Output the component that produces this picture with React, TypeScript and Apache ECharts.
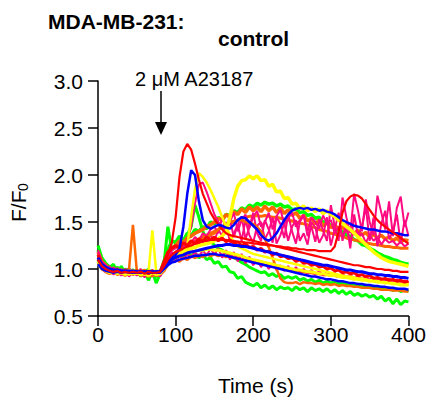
import React, { useEffect, useRef } from "react";
import * as echarts from "echarts";

// time samples (s)
const TIME: number[] = Array.from({ length: 81 }, (_, i) => i * 5);

const X_TICKS = [0, 100, 200, 300, 400];
const Y_TICKS = [0.5, 1.0, 1.5, 2.0, 2.5, 3.0];

const greenLow = [
  1.25, 1.12, 1.06, 1.02, 1.05, 0.96, 1.03, 0.94, 1.0, 0.95,
  0.99, 0.92, 0.98, 0.88, 0.97, 0.85, 0.95, 1.02, 1.08, 1.12,
  1.1, 1.16, 1.12, 1.18, 1.14, 1.17, 1.12, 1.15, 1.1, 1.12,
  1.06, 1.08, 1.02, 1.03, 0.97, 0.96, 0.9, 0.92, 0.86, 0.84,
  0.82, 0.85, 0.8, 0.83, 0.79, 0.82, 0.78, 0.81, 0.79, 0.8,
  0.77, 0.81, 0.78, 0.8, 0.76, 0.8, 0.77, 0.79, 0.76, 0.79,
  0.75, 0.78, 0.74, 0.77, 0.73, 0.76, 0.72, 0.74, 0.71, 0.73,
  0.7, 0.72, 0.68, 0.71, 0.66, 0.69, 0.63, 0.68, 0.62, 0.66,
  0.65,
];
const greenMid = [
  1.15, 1.06, 1.03, 1.0, 0.98, 1.02, 0.96, 1.0, 0.97, 0.99,
  0.95, 0.99, 0.96, 1.0, 0.93, 0.98, 0.97, 1.05, 1.45, 1.2,
  1.25, 1.3, 1.28, 1.36, 1.45, 1.68, 1.55, 1.4, 1.32, 1.3,
  1.25, 1.22, 1.2, 1.17, 1.15, 1.12, 1.1, 1.07, 1.05, 1.02,
  1.0, 0.98, 0.96, 0.97, 0.93, 0.95, 0.92, 0.94, 0.9, 0.92,
  0.9, 0.92, 0.88, 0.9, 0.87, 0.89, 0.86, 0.88, 0.85, 0.87,
  0.85, 0.87, 0.84, 0.86, 0.83, 0.85, 0.82, 0.84, 0.81, 0.83,
  0.8, 0.82, 0.79, 0.81, 0.78, 0.8, 0.77, 0.79, 0.76, 0.78,
  0.76,
];
const greenHigh = [
  1.2, 1.1, 1.05, 1.02, 1.0, 0.98, 1.01, 0.97, 0.99, 0.96,
  0.98, 0.95, 0.97, 0.94, 0.98, 0.92, 0.96, 1.08, 1.2, 1.3,
  1.28, 1.35, 1.3, 1.38, 1.35, 1.42, 1.4, 1.45, 1.43, 1.5,
  1.48, 1.55, 1.52, 1.58, 1.57, 1.62, 1.6, 1.65, 1.63, 1.68,
  1.66, 1.7, 1.68, 1.71, 1.69, 1.7, 1.67, 1.69, 1.66, 1.67,
  1.63, 1.64, 1.6, 1.61, 1.57, 1.58, 1.54, 1.55, 1.5, 1.5,
  1.46, 1.45, 1.41, 1.4, 1.36, 1.35, 1.31, 1.3, 1.26, 1.25,
  1.22, 1.2, 1.17, 1.15, 1.13, 1.12, 1.1, 1.09, 1.07, 1.06,
  1.05,
];
const orangeTop = [
  1.18, 1.08, 1.04, 1.0, 0.98, 1.0, 0.96, 0.98, 0.95, 0.97,
  0.96, 0.94, 0.97, 0.95, 0.93, 0.96, 0.95, 1.05, 1.15, 1.22,
  1.25, 1.3, 1.28, 1.33, 1.35, 1.38, 1.4, 1.42, 1.45, 1.47,
  1.5, 1.54, 1.52, 1.58, 1.55, 1.61, 1.58, 1.64, 1.6, 1.66,
  1.62, 1.66, 1.61, 1.67, 1.62, 1.66, 1.6, 1.65, 1.59, 1.63,
  1.57, 1.6, 1.54, 1.57, 1.51, 1.54, 1.48, 1.52, 1.46, 1.49,
  1.44, 1.47, 1.42, 1.45, 1.4, 1.43, 1.38, 1.41, 1.36, 1.39,
  1.34, 1.37, 1.33, 1.36, 1.32, 1.34, 1.3, 1.33, 1.29, 1.31,
  1.3,
];
const orangeDrop = [
  1.12, 1.04, 1.0, 0.98, 0.97, 0.99, 0.97, 0.98, 1.0, 1.47,
  0.98, 0.97, 0.99, 0.96, 0.98, 0.97, 0.96, 1.02, 1.08, 1.12,
  1.15, 1.18, 1.2, 1.22, 1.25, 1.27, 1.3, 1.32, 1.34, 1.36,
  1.38, 1.42, 1.45, 1.48, 1.5, 1.51, 1.52, 1.52, 1.5, 1.49,
  1.48, 1.45, 1.4, 1.32, 1.23, 1.12, 1.0, 0.9, 0.86, 0.85,
  0.85, 0.86, 0.84, 0.86, 0.85, 0.85, 0.84, 0.85, 0.83, 0.84,
  0.83, 0.84, 0.82, 0.83, 0.82, 0.82, 0.81, 0.81, 0.8, 0.8,
  0.8, 0.79, 0.79, 0.78, 0.78, 0.78, 0.77, 0.77, 0.77, 0.76,
  0.76,
];
const orangeMid = [
  1.1, 1.03, 1.0, 0.98, 0.97, 0.99, 0.96, 0.98, 0.97, 0.96,
  0.97, 0.95, 0.98, 0.96, 0.97, 0.95, 0.96, 1.03, 1.1, 1.15,
  1.18, 1.2, 1.22, 1.25, 1.27, 1.3, 1.32, 1.35, 1.36, 1.38,
  1.4, 1.42, 1.44, 1.47, 1.48, 1.5, 1.52, 1.53, 1.55, 1.56,
  1.56, 1.57, 1.56, 1.57, 1.56, 1.55, 1.55, 1.54, 1.53, 1.52,
  1.51, 1.5, 1.49, 1.48, 1.47, 1.45, 1.44, 1.42, 1.41, 1.4,
  1.38, 1.37, 1.36, 1.35, 1.33, 1.32, 1.31, 1.3, 1.29, 1.28,
  1.27, 1.26, 1.26, 1.25, 1.24, 1.24, 1.23, 1.23, 1.22, 1.22,
  1.22,
];
const orangeLow = [
  1.08, 1.0, 0.97, 0.95, 0.97, 0.94, 0.96, 0.93, 0.97, 0.94,
  0.96, 0.93, 0.95, 0.92, 0.96, 0.93, 0.94, 0.98, 1.05, 1.08,
  1.1, 1.08, 1.12, 1.1, 1.14, 1.12, 1.15, 1.13, 1.16, 1.14,
  1.16, 1.14, 1.15, 1.13, 1.14, 1.12, 1.12, 1.1, 1.11, 1.09,
  1.08, 1.07, 1.06, 1.05, 1.04, 1.03, 1.02, 1.01, 1.0, 0.99,
  0.98, 0.98, 0.97, 0.97, 0.96, 0.96, 0.95, 0.95, 0.94, 0.94,
  0.93, 0.93, 0.92, 0.92, 0.91, 0.91, 0.9, 0.9, 0.89, 0.89,
  0.88, 0.88, 0.87, 0.87, 0.86, 0.86, 0.85, 0.85, 0.84, 0.84,
  0.84,
];
const yellowPeak = [
  1.05, 1.0, 0.98, 0.97, 0.96, 0.98, 0.95, 0.97, 0.94, 0.96,
  0.95, 0.97, 0.94, 0.96, 1.41, 0.97, 0.95, 1.0, 1.05, 1.1,
  1.12, 1.15, 1.18, 1.25, 1.55, 1.85, 2.02, 1.98, 1.92, 1.84,
  1.75, 1.66, 1.55, 1.45, 1.36, 1.28, 1.24, 1.22, 1.2, 1.18,
  1.16, 1.15, 1.14, 1.13, 1.12, 1.11, 1.1, 1.09, 1.08, 1.07,
  1.06, 1.05, 1.04, 1.03, 1.02, 1.01, 1.0, 0.99, 0.98, 0.97,
  0.96, 0.95, 0.94, 0.93, 0.92, 0.92, 0.91, 0.9, 0.9, 0.89,
  0.88, 0.88, 0.87, 0.87, 0.86, 0.86, 0.85, 0.85, 0.84, 0.84,
  0.84,
];
const yellowHump = [
  1.1, 1.02, 0.99, 0.97, 0.98, 0.96, 0.97, 0.95, 0.98, 0.96,
  0.97, 0.95, 0.96, 0.94, 0.97, 0.95, 0.96, 1.02, 1.08, 1.12,
  1.14, 1.16, 1.18, 1.2, 1.22, 1.23, 1.25, 1.26, 1.27, 1.28,
  1.3, 1.32, 1.35, 1.4, 1.55, 1.75, 1.88, 1.94, 1.95, 1.99,
  1.96, 1.99, 1.94, 1.95, 1.88, 1.9, 1.82, 1.83, 1.75, 1.76,
  1.69, 1.7, 1.64, 1.67, 1.62, 1.65, 1.61, 1.64, 1.59, 1.62,
  1.58, 1.56, 1.52, 1.49, 1.45, 1.42, 1.38, 1.34, 1.3, 1.26,
  1.22, 1.18, 1.15, 1.12, 1.1, 1.08, 1.07, 1.06, 1.05, 1.04,
  1.03,
];
const yellowLow = [
  1.08, 1.01, 0.98, 0.96, 0.97, 0.95, 0.97, 0.94, 0.96, 0.95,
  0.96, 0.94, 0.95, 0.93, 0.96, 0.94, 0.95, 1.0, 1.06, 1.1,
  1.12, 1.14, 1.16, 1.17, 1.18, 1.19, 1.2, 1.2, 1.21, 1.21,
  1.2, 1.2, 1.19, 1.18, 1.17, 1.16, 1.15, 1.14, 1.12, 1.11,
  1.1, 1.09, 1.08, 1.07, 1.06, 1.05, 1.04, 1.03, 1.02, 1.01,
  1.0, 0.99, 0.99, 0.98, 0.97, 0.97, 0.96, 0.95, 0.95, 0.94,
  0.93, 0.93, 0.92, 0.91, 0.91, 0.9, 0.89, 0.89, 0.88, 0.88,
  0.87, 0.87, 0.86, 0.86, 0.85, 0.85, 0.84, 0.84, 0.83, 0.83,
  0.83,
];
const pinkPeak = [
  1.15, 1.06, 1.0, 1.03, 0.96, 1.01, 0.95, 1.0, 0.94, 0.99,
  0.95, 1.0, 0.93, 0.99, 0.94, 0.98, 0.93, 1.02, 1.1, 1.15,
  1.18, 1.22, 1.2, 1.3, 1.45, 1.7, 1.9, 1.92, 1.82, 1.7,
  1.58, 1.5, 1.45, 1.38, 1.52, 1.34, 1.47, 1.56, 1.32, 1.44,
  1.6, 1.38, 1.3, 1.52, 1.42, 1.28, 1.55, 1.48, 1.33, 1.58,
  1.4, 1.27, 1.5, 1.57, 1.35, 1.45, 1.29, 1.53, 1.41, 1.3,
  1.68, 1.45, 1.3, 1.76, 1.55, 1.38, 1.8, 1.62, 1.4, 1.74,
  1.5, 1.36, 1.78, 1.6, 1.42, 1.72, 1.35, 1.65, 1.77, 1.45,
  1.6,
];
const pinkMid = [
  1.2, 1.08, 1.04, 0.98, 1.02, 0.96, 1.0, 0.97, 1.01, 0.95,
  0.99, 0.94, 0.98, 0.95, 0.99, 0.93, 0.97, 1.05, 1.12, 1.18,
  1.15, 1.22, 1.18, 1.26, 1.22, 1.3, 1.25, 1.33, 1.28, 1.36,
  1.3, 1.42, 1.35, 1.5, 1.28, 1.38, 1.47, 1.3, 1.52, 1.36,
  1.28, 1.46, 1.5, 1.32, 1.4, 1.55, 1.27, 1.36, 1.49, 1.3,
  1.45, 1.52, 1.3, 1.38, 1.26, 1.5, 1.44, 1.28, 1.36, 1.55,
  1.25, 1.42, 1.6, 1.3, 1.5, 1.22, 1.58, 1.35, 1.45, 1.66,
  1.3, 1.55, 1.24, 1.48, 1.62, 1.32, 1.4, 1.58, 1.27, 1.52,
  1.35,
];
const pinkUpper = [
  1.18, 1.05, 1.02, 0.97, 1.0, 0.95, 0.99, 0.96, 1.0, 0.94,
  0.98, 0.95, 0.99, 0.94, 0.97, 0.95, 0.98, 1.06, 1.14, 1.2,
  1.22, 1.26, 1.24, 1.3, 1.28, 1.34, 1.3, 1.38, 1.35, 1.42,
  1.45, 1.38, 1.55, 1.42, 1.5, 1.6, 1.4, 1.52, 1.58, 1.44,
  1.55, 1.62, 1.45, 1.5, 1.6, 1.42, 1.56, 1.63, 1.48, 1.54,
  1.6, 1.45, 1.52, 1.58, 1.4, 1.55, 1.5, 1.43, 1.57, 1.48,
  1.52, 1.38, 1.45, 1.35, 1.42, 1.3, 1.4, 1.33, 1.38, 1.28,
  1.36, 1.3, 1.34, 1.26, 1.32, 1.28, 1.3, 1.25, 1.29, 1.24,
  1.27,
];
const pinkLow = [
  1.1, 1.0, 0.97, 1.0, 0.94, 0.99, 0.93, 0.98, 0.92, 0.97,
  0.93, 0.98, 0.91, 0.97, 0.92, 0.96, 0.92, 1.0, 1.06, 1.1,
  1.08, 1.14, 1.1, 1.16, 1.12, 1.18, 1.13, 1.2, 1.14, 1.22,
  1.15, 1.22, 1.12, 1.2, 1.1, 1.18, 1.08, 1.16, 1.06, 1.13,
  1.04, 1.1, 1.02, 1.08, 1.0, 1.06, 0.99, 1.04, 0.98, 1.03,
  0.97, 1.02, 0.96, 1.0, 0.95, 0.99, 0.94, 0.98, 0.93, 0.97,
  0.93, 0.96, 0.92, 0.95, 0.91, 0.94, 0.9, 0.93, 0.89, 0.92,
  0.89, 0.91, 0.88, 0.9, 0.87, 0.9, 0.86, 0.89, 0.86, 0.88,
  0.86,
];
const redPeak = [
  1.12, 1.04, 1.0, 0.99, 0.98, 0.99, 0.97, 0.98, 0.97, 0.98,
  0.97, 0.98, 0.96, 0.98, 0.97, 0.97, 0.98, 1.05, 1.15, 1.28,
  1.55, 1.98, 2.25, 2.33, 2.27, 2.12, 1.95, 1.8, 1.7, 1.6,
  1.53, 1.47, 1.42, 1.38, 1.36, 1.35, 1.34, 1.33, 1.32, 1.31,
  1.3, 1.29, 1.28, 1.27, 1.26, 1.25, 1.24, 1.23, 1.22, 1.21,
  1.2, 1.19, 1.18, 1.17, 1.16, 1.15, 1.14, 1.13, 1.12, 1.11,
  1.1, 1.09, 1.08, 1.07, 1.06, 1.05, 1.04, 1.04, 1.03, 1.02,
  1.02, 1.01, 1.0, 1.0, 0.99, 0.99, 0.98, 0.98, 0.97, 0.97,
  0.97,
];
const redLate = [
  1.1, 1.03, 1.0, 0.98, 0.97, 0.98, 0.96, 0.97, 0.96, 0.97,
  0.96, 0.97, 0.95, 0.97, 0.96, 0.96, 0.97, 1.03, 1.1, 1.15,
  1.18, 1.2, 1.22, 1.24, 1.25, 1.27, 1.28, 1.3, 1.3, 1.31,
  1.31, 1.32, 1.31, 1.31, 1.3, 1.3, 1.29, 1.29, 1.28, 1.28,
  1.27, 1.27, 1.26, 1.26, 1.25, 1.25, 1.24, 1.24, 1.23, 1.23,
  1.22, 1.22, 1.21, 1.21, 1.2, 1.2, 1.2, 1.19, 1.19, 1.19,
  1.19, 1.24, 1.4, 1.6, 1.72, 1.77, 1.79, 1.78, 1.75, 1.69,
  1.63, 1.57, 1.52, 1.48, 1.45, 1.42, 1.39, 1.36, 1.33, 1.3,
  1.27,
];
const redBand = [
  1.15, 1.05, 1.01, 0.99, 0.97, 0.99, 0.96, 0.98, 0.97, 0.96,
  0.98, 0.96, 0.97, 0.95, 0.98, 0.96, 0.97, 1.08, 1.18, 1.22,
  1.25, 1.22, 1.28, 1.25, 1.3, 1.27, 1.32, 1.29, 1.34, 1.31,
  1.34, 1.3, 1.33, 1.29, 1.31, 1.27, 1.29, 1.25, 1.27, 1.23,
  1.24, 1.2, 1.22, 1.18, 1.19, 1.15, 1.17, 1.13, 1.14, 1.11,
  1.12, 1.08, 1.1, 1.06, 1.07, 1.04, 1.05, 1.02, 1.03, 1.0,
  1.01, 0.98, 0.99, 0.96, 0.97, 0.95, 0.96, 0.93, 0.94, 0.92,
  0.93, 0.9, 0.91, 0.89, 0.9, 0.88, 0.89, 0.87, 0.88, 0.86,
  0.87,
];
const bluePeak = [
  1.1, 1.03, 1.0, 0.98, 0.98, 0.97, 0.98, 0.97, 0.97, 0.98,
  0.97, 0.96, 0.97, 0.97, 0.96, 0.97, 0.97, 1.02, 1.08, 1.12,
  1.15, 1.22, 1.45, 1.8, 2.05, 2.0, 1.72, 1.52, 1.45, 1.43,
  1.45, 1.47, 1.46, 1.44, 1.43, 1.47, 1.52, 1.55, 1.54, 1.5,
  1.46, 1.42, 1.36, 1.32, 1.3, 1.33, 1.38, 1.45, 1.52, 1.58,
  1.62, 1.64, 1.65, 1.64, 1.65, 1.63, 1.64, 1.62, 1.63, 1.61,
  1.6, 1.58, 1.55, 1.52, 1.5, 1.48, 1.46, 1.45, 1.44, 1.43,
  1.42, 1.42, 1.41, 1.4, 1.4, 1.39, 1.38, 1.38, 1.37, 1.36,
  1.36,
];
const blueMean = [
  1.12, 1.05, 1.02, 1.0, 0.99, 0.99, 0.98, 0.98, 0.98, 0.97,
  0.97, 0.97, 0.97, 0.97, 0.97, 0.97, 0.97, 1.02, 1.07, 1.1,
  1.12, 1.14, 1.15, 1.17, 1.18, 1.19, 1.2, 1.21, 1.22, 1.23,
  1.24, 1.25, 1.25, 1.26, 1.26, 1.25, 1.25, 1.24, 1.24, 1.23,
  1.22, 1.21, 1.2, 1.19, 1.18, 1.17, 1.16, 1.15, 1.14, 1.13,
  1.12, 1.11, 1.1, 1.09, 1.08, 1.07, 1.06, 1.05, 1.04, 1.04,
  1.03, 1.02, 1.01, 1.0, 0.99, 0.99, 0.98, 0.97, 0.97, 0.96,
  0.95, 0.95, 0.94, 0.94, 0.93, 0.93, 0.92, 0.92, 0.91, 0.91,
  0.9,
];
const blueLow = [
  1.05, 1.0, 0.98, 0.97, 0.96, 0.97, 0.96, 0.97, 0.96, 0.96,
  0.96, 0.97, 0.96, 0.96, 0.97, 0.96, 0.96, 1.0, 1.04, 1.07,
  1.08, 1.1, 1.11, 1.12, 1.13, 1.14, 1.14, 1.15, 1.15, 1.16,
  1.16, 1.15, 1.15, 1.14, 1.13, 1.12, 1.11, 1.1, 1.09, 1.08,
  1.07, 1.06, 1.05, 1.04, 1.03, 1.02, 1.01, 1.0, 0.99, 0.98,
  0.97, 0.96, 0.95, 0.94, 0.93, 0.92, 0.92, 0.91, 0.9, 0.89,
  0.89, 0.88, 0.87, 0.87, 0.86, 0.85, 0.85, 0.84, 0.84, 0.83,
  0.83, 0.82, 0.82, 0.81, 0.81, 0.8, 0.8, 0.79, 0.79, 0.79,
  0.78,
];

const GREEN = "#00ff00";
const ORANGE = "#ff6600";
const PINK = "#ff0a80";
const YELLOW = "#ffff00";
const RED = "#ff0000";
const BLUE = "#0000ff";

const TRACES: { name: string; color: string; values: number[]; width: number }[] = [
  { name: "greenLow", color: GREEN, values: greenLow, width: 3 },
  { name: "greenMid", color: GREEN, values: greenMid, width: 3 },
  { name: "greenHigh", color: GREEN, values: greenHigh, width: 3.5 },
  { name: "orangeLow", color: ORANGE, values: orangeLow, width: 3 },
  { name: "pinkLow", color: PINK, values: pinkLow, width: 2 },
  { name: "orangeMid", color: ORANGE, values: orangeMid, width: 3 },
  { name: "orangeTop", color: ORANGE, values: orangeTop, width: 3.5 },
  { name: "pinkUpper", color: PINK, values: pinkUpper, width: 2 },
  { name: "pinkMid", color: PINK, values: pinkMid, width: 2 },
  { name: "pinkPeak", color: PINK, values: pinkPeak, width: 2 },
  { name: "orangeDrop", color: ORANGE, values: orangeDrop, width: 2.5 },
  { name: "yellowLow", color: YELLOW, values: yellowLow, width: 3 },
  { name: "yellowPeak", color: YELLOW, values: yellowPeak, width: 2.5 },
  { name: "yellowHump", color: YELLOW, values: yellowHump, width: 3.5 },
  { name: "redBand", color: RED, values: redBand, width: 3 },
  { name: "blueLow", color: BLUE, values: blueLow, width: 2.5 },
  { name: "redPeak", color: RED, values: redPeak, width: 2.2 },
  { name: "bluePeak", color: BLUE, values: bluePeak, width: 2.5 },
  { name: "blueMean", color: BLUE, values: blueMean, width: 3 },
  { name: "redLate", color: RED, values: redLate, width: 2.2 },
];

const FONT = "'Liberation Sans', Arial, Helvetica, sans-serif";

export default function App() {
  const ref = useRef<HTMLDivElement>(null);
  useEffect(() => {
    if (!ref.current) return;
    const chart = echarts.init(ref.current, null, { renderer: "svg" });
    const axisStyle = { color: "#000", width: 1.5 };
    chart.setOption({
      animation: false,
      backgroundColor: "#ffffff",
      grid: { left: 98, right: 18, top: 81, bottom: 83 },
      xAxis: {
        type: "value",
        min: X_TICKS[0],
        max: X_TICKS[X_TICKS.length - 1],
        interval: 100,
        axisLine: { show: true, lineStyle: axisStyle },
        axisTick: { show: true, length: 10, lineStyle: axisStyle },
        axisLabel: {
          color: "#000",
          fontSize: 21,
          fontFamily: FONT,
          margin: 8,
        },
        splitLine: { show: false },
      },
      yAxis: {
        type: "value",
        min: Y_TICKS[0],
        max: Y_TICKS[Y_TICKS.length - 1],
        interval: 0.5,
        axisLine: { show: true, lineStyle: axisStyle },
        axisTick: { show: true, length: 10, lineStyle: axisStyle },
        axisLabel: {
          color: "#000",
          fontSize: 21,
          fontFamily: FONT,
          margin: 15,
          formatter: (v: number) => v.toFixed(1),
        },
        splitLine: { show: false },
      },
      series: TRACES.map((tr) => ({
        name: tr.name,
        type: "line",
        data: TIME.map((t, i) => [t, tr.values[i]]),
        showSymbol: false,
        symbol: "none",
        lineStyle: { color: tr.color, width: tr.width },
        itemStyle: { color: tr.color },
        clip: true,
        silent: true,
      })),
      graphic: [
        {
          type: "text",
          x: 48,
          y: 21,
          style: {
            text: "MDA-MB-231:",
            font: `bold 21px ${FONT}`,
            fill: "#000",
            align: "left",
            verticalAlign: "middle",
          },
        },
        {
          type: "text",
          x: 218,
          y: 38,
          style: {
            text: "control",
            font: `bold 21px ${FONT}`,
            fill: "#000",
            align: "left",
            verticalAlign: "middle",
          },
        },
        {
          type: "text",
          x: 135,
          y: 79,
          style: {
            text: "2 \u03bcM A23187",
            font: `20px ${FONT}`,
            fill: "#000",
            align: "left",
            verticalAlign: "middle",
          },
        },
        {
          type: "line",
          shape: { x1: 161, y1: 91, x2: 161, y2: 124 },
          style: { stroke: "#000", lineWidth: 1.5 },
        },
        {
          type: "polygon",
          shape: { points: [[155, 122], [167, 122], [161, 135]] },
          style: { fill: "#000" },
        },
        {
          type: "text",
          x: 256,
          y: 385,
          style: {
            text: "Time (s)",
            font: `21px ${FONT}`,
            fill: "#000",
            align: "center",
            verticalAlign: "middle",
          },
        },
        {
          type: "group",
          x: 18,
          y: 222,
          rotation: Math.PI / 2,
          children: [
            {
              type: "text",
              x: 0,
              y: 0,
              style: {
                text: "F/F",
                font: `21px ${FONT}`,
                fill: "#000",
                align: "left",
                verticalAlign: "middle",
              },
            },
            {
              type: "text",
              x: 31,
              y: 5,
              style: {
                text: "0",
                font: `14px ${FONT}`,
                fill: "#000",
                align: "left",
                verticalAlign: "middle",
              },
            },
          ],
        },
      ],
    });
    return () => chart.dispose();
  }, []);
  return (
    <div
      ref={ref}
      style={{ position: "absolute", left: 0, top: 0, width: 429, height: 399 }}
    />
  );
}
